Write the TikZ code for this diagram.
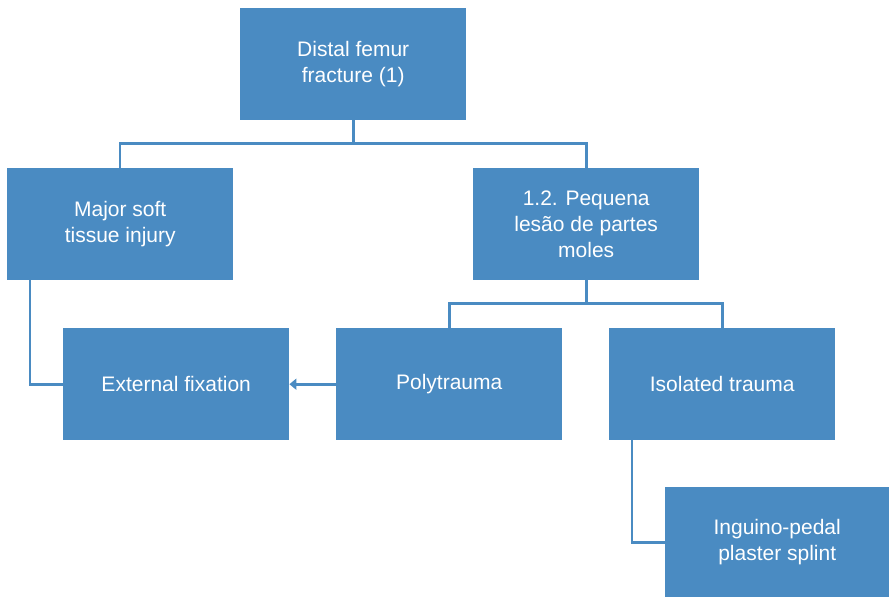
\documentclass[tikz,border=0pt]{standalone}
\usepackage{fontspec}
\setmainfont{Liberation Sans}
\usetikzlibrary{arrows.meta}
\definecolor{boxblue}{HTML}{4A8BC2}
\begin{document}
\begin{tikzpicture}[x=1pt,y=-1pt,
  box/.style={fill=boxblue, draw=none, text=white, minimum width=226pt, minimum height=112pt,
    inner sep=0pt, align=center, font=\fontsize{21}{26}\selectfont, anchor=north west},
  link/.style={draw=boxblue, line width=2.6pt}]
\useasboundingbox (0,0) rectangle (889,597);
\node[box] (top) at (240,8) {Distal femur\\fracture (1)};
\node[box] (soft) at (7,168) {Major soft\\tissue injury};
\node[box] (small) at (473,168) {1.2. Pequena\\lesão de partes\\moles};
\node[box] (ext) at (63,328) {External fixation};
\node[box] (poly) at (336,328) {Polytrauma};
\node[box] (iso) at (609,328) {Isolated trauma};
\node[box, minimum width=224pt, minimum height=110pt] (ing) at (665,487) {Inguino-pedal\\plaster splint};
% branches from the fracture box
\draw[link] (top.south) -- ++(0,23) -| (soft.north -| 120,0);
\draw[link] (top.south) -- ++(0,23) -| (small.north);
% branches from the minor soft tissue box
\draw[link] (small.south) -- ++(0,23) -| (poly.north);
\draw[link] (small.south) -- ++(0,23) -| (iso.north);
% side connectors
\draw[link] (soft.south -| 30,0) |- (ext.west);
\draw[link] (iso.south -| 632,0) |- (ing.west);
\draw[link, -{Triangle[length=7pt,width=11pt]}] (poly.west) -- (ext.east);
\end{tikzpicture}
\end{document}
